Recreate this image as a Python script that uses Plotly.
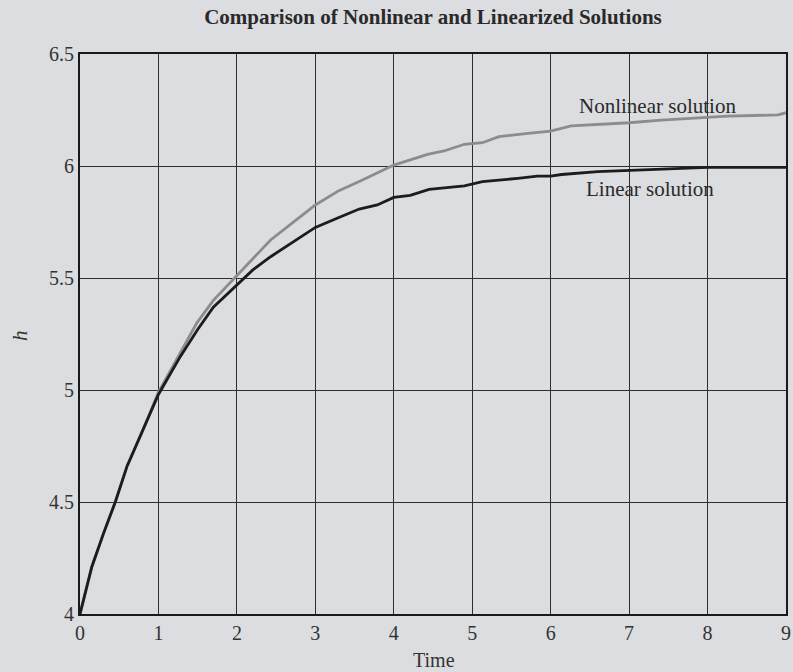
import plotly.graph_objects as go

# Data
linear_t = [0, 0.15, 0.3, 0.45, 0.6, 0.8, 1.0, 1.28, 1.5, 1.7, 2.0, 2.2, 2.43, 2.81, 3.0,
            3.3, 3.56, 3.79, 4.0, 4.21, 4.45, 4.9, 5.13, 5.58, 5.83, 6.0, 6.14, 6.6, 7.33, 8.0, 9.0]
linear_h = [4.0, 4.21, 4.36, 4.50, 4.66, 4.82, 4.98, 5.15, 5.27, 5.37, 5.47, 5.535, 5.595, 5.684, 5.726,
            5.77, 5.808, 5.826, 5.86, 5.869, 5.896, 5.911, 5.93, 5.945, 5.955, 5.955, 5.962, 5.975, 5.985, 5.994, 5.994]

nonlinear_t = [0, 0.15, 0.3, 0.45, 0.6, 0.8, 1.0, 1.28, 1.49, 1.7, 2.0, 2.43, 2.81, 3.0, 3.3,
               3.58, 4.0, 4.43, 4.64, 4.9, 5.13, 5.34, 5.71, 6.0, 6.26, 7.0, 7.41, 8.0, 8.26, 8.9, 9.0]
nonlinear_h = [4.0, 4.21, 4.36, 4.50, 4.66, 4.82, 4.99, 5.17, 5.30, 5.40, 5.51, 5.67, 5.774, 5.826, 5.89,
               5.934, 6.004, 6.052, 6.067, 6.097, 6.104, 6.131, 6.146, 6.156, 6.179, 6.193, 6.205, 6.217, 6.223, 6.228, 6.238]

x_ticks = [0, 1, 2, 3, 4, 5, 6, 7, 8, 9]
y_ticks = [4, 4.5, 5, 5.5, 6, 6.5]
y_tick_labels = ["4", "4.5", "5", "5.5", "6", "6.5"]

labels = ["Nonlinear solution", "Linear solution"]
label_pos = [(7.36, 6.268), (7.27, 5.897)]

BG = "#dcdde0"
FONT = "Liberation Serif"
W, H = 793, 672
ML, MR, MT, MB = 80, 7, 54, 58
PW, PH = W - ML - MR, H - MT - MB

fig = go.Figure()
fig.add_trace(go.Scatter(x=nonlinear_t, y=nonlinear_h, mode="lines",
                         line=dict(color="#8c8c8c", width=2.8), showlegend=False))
fig.add_trace(go.Scatter(x=linear_t, y=linear_h, mode="lines",
                         line=dict(color="#1c1c1c", width=2.8), showlegend=False))

for txt, (tx, ty) in zip(labels, label_pos):
    fig.add_annotation(x=tx, y=ty, text=txt, showarrow=False,
                       font=dict(family=FONT, size=21, color="#2a2a2a"),
                       xanchor="center", yanchor="middle")

# Axis titles placed as paper annotations
fig.add_annotation(xref="paper", yref="paper", x=(434 - ML) / PW, y=-(660 - (H - MB)) / PH,
                   text="Time", showarrow=False, xanchor="center", yanchor="middle",
                   font=dict(family=FONT, size=20, color="#333333"))
fig.add_annotation(xref="paper", yref="paper", x=(20 - ML) / PW, y=(H - MB - 336) / PH,
                   text="<i>h</i>", showarrow=False, textangle=-90,
                   xanchor="center", yanchor="middle",
                   font=dict(family=FONT, size=21, color="#333333"))

fig.update_layout(
    width=W, height=H,
    paper_bgcolor=BG, plot_bgcolor=BG,
    margin=dict(l=ML, r=MR, t=MT, b=MB),
    title=dict(text="<b>Comparison of Nonlinear and Linearized Solutions</b>",
               x=(ML + PW / 2) / W, xanchor="center", y=1 - 17 / H, yanchor="middle",
               font=dict(family=FONT, size=21, color="#2a2a2a")),
    font=dict(family=FONT, color="#333333"),
    hovermode=False,
)
fig.update_xaxes(range=[0, 9], tickvals=x_ticks, ticktext=[str(v) for v in x_ticks],
                 automargin=False,
                 showgrid=True, gridcolor="#2e2e2e", gridwidth=1,
                 showline=True, linecolor="#1a1a1a", linewidth=2, mirror=True,
                 zeroline=False, ticks="", tickfont=dict(family=FONT, size=20, color="#333333"))
fig.update_yaxes(range=[4, 6.5], tickvals=y_ticks, ticktext=y_tick_labels,
                 automargin=False,
                 showgrid=True, gridcolor="#2e2e2e", gridwidth=1,
                 showline=True, linecolor="#1a1a1a", linewidth=2, mirror=True,
                 zeroline=False, ticks="", tickfont=dict(family=FONT, size=20, color="#333333"))

fig.write_html("out.html", config={"displayModeBar": False},
               post_script="document.body.style.margin='0';")
